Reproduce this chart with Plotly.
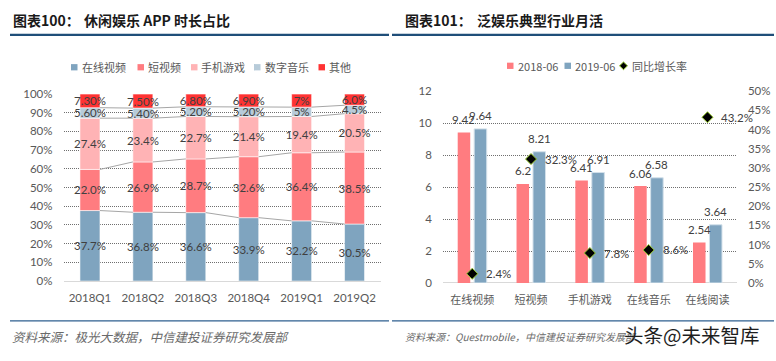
import plotly.graph_objects as go

W, H = 776, 361

# ---------------- Left chart data ----------------
quarters = ["2018Q1", "2018Q2", "2018Q3", "2018Q4", "2019Q1", "2019Q2"]
online_video = [37.7, 36.8, 36.6, 33.9, 32.2, 30.5]
short_video = [22.0, 26.9, 28.7, 32.6, 36.4, 38.5]
mobile_games = [27.4, 23.4, 22.7, 21.4, 19.4, 20.5]
digital_music = [5.6, 5.4, 5.2, 5.2, 5.0, 4.5]
others = [7.3, 7.5, 6.8, 6.9, 7.0, 6.0]
labels_video = ["37.7%", "36.8%", "36.6%", "33.9%", "32.2%", "30.5%"]
labels_short = ["22.0%", "26.9%", "28.7%", "32.6%", "36.4%", "38.5%"]
labels_games = ["27.4%", "23.4%", "22.7%", "21.4%", "19.4%", "20.5%"]
labels_music = ["5.60%", "5.40%", "5.20%", "5.20%", "5%", "4.5%"]
labels_others = ["7.30%", "7.50%", "6.80%", "6.90%", "7%", "6.0%"]
left_names = ["在线视频", "短视频", "手机游戏", "数字音乐", "其他"]
left_colors = ["#7FA4BF", "#FF7C80", "#FFB3B5", "#B7CBD9", "#FF3333"]

# ---------------- Right chart data ----------------
industries = ["在线视频", "短视频", "手机游戏", "在线音乐", "在线阅读"]
mau_2018 = [9.42, 6.2, 6.41, 6.06, 2.54]
mau_2019 = [9.64, 8.21, 6.91, 6.58, 3.64]
yoy_growth = [0.024, 0.323, 0.078, 0.086, 0.432]
yoy_labels = ["2.4%", "32.3%", "7.8%", "8.6%", "43.2%"]
right_names = ["2018-06", "2019-06", "同比增长率"]
right_colors = ["#FF7C80", "#7FA4BF"]


def fx(x):
    return x / W


def fy(y):
    return 1 - y / H


NUM_FONT = "Lato, Noto Sans CJK SC, sans-serif"
CJK_FONT = "Noto Sans CJK SC, sans-serif"
TXT = "#404040"
AX = "#595959"

fig = go.Figure()

# ---------- left stacked bars ----------
series = [online_video, short_video, mobile_games, digital_music, others]
labels = [labels_video, labels_short, labels_games, labels_music, labels_others]
BW = 0.378
xs = list(range(len(quarters)))
base = [0.0] * len(quarters)
tops = []
for vals, lab, col, name in zip(series, labels, left_colors, left_names):
    fig.add_trace(go.Bar(
        x=xs, y=vals, base=list(base), width=BW, name=name,
        marker=dict(color=col, line=dict(color="rgba(255,255,255,0.7)", width=0.8)),
        text=lab, textposition="inside", insidetextanchor="middle",
        constraintext="none", textangle=0,
        insidetextfont=dict(family=NUM_FONT, size=11.5, color=TXT),
        xaxis="x", yaxis="y", showlegend=False, hoverinfo="skip"))
    base = [b + v for b, v in zip(base, vals)]
    tops.append(list(base))

# series lines between stacked bars
for top in tops[:4]:
    lx, ly = [], []
    for i in range(len(quarters) - 1):
        lx += [i + BW / 2, i + 1 - BW / 2, None]
        ly += [top[i], top[i + 1], None]
    fig.add_trace(go.Scatter(x=lx, y=ly, mode="lines",
                             line=dict(color="#A6A6A6", width=1),
                             xaxis="x", yaxis="y", showlegend=False, hoverinfo="skip"))

# ---------- right grouped bars ----------
OFF = 0.14
RBW = 0.213
rx = list(range(len(industries)))
fig.add_trace(go.Bar(x=[i - OFF for i in rx], y=mau_2018, width=RBW, name=right_names[0],
                     marker=dict(color=right_colors[0], line=dict(width=0)),
                     xaxis="x2", yaxis="y2", showlegend=False, hoverinfo="skip"))
fig.add_trace(go.Bar(x=[i + OFF for i in rx], y=mau_2019, width=RBW, name=right_names[1],
                     marker=dict(color=right_colors[1], line=dict(color="#D3E0EA", width=1)),
                     xaxis="x2", yaxis="y2", showlegend=False, hoverinfo="skip"))
fig.add_trace(go.Scatter(x=rx, y=yoy_growth, mode="markers", name=right_names[2],
                         marker=dict(symbol="diamond", size=8.5, color="black",
                                     line=dict(color="#9ACD32", width=1)),
                         xaxis="x2", yaxis="y3", showlegend=False, hoverinfo="skip"))

annotations = []
for i, v in enumerate(mau_2018):
    annotations.append(dict(x=i - OFF, y=v, xref="x2", yref="y2", text=f"{v:g}",
                            showarrow=False, yshift=13,
                            font=dict(family=NUM_FONT, size=11.5, color=TXT)))
for i, v in enumerate(mau_2019):
    annotations.append(dict(x=i + OFF, y=v, xref="x2", yref="y2", text=f"{v:g}",
                            showarrow=False, yshift=13,
                            font=dict(family=NUM_FONT, size=11.5, color=TXT)))
for i, (v, t) in enumerate(zip(yoy_growth, yoy_labels)):
    annotations.append(dict(x=i, y=v, xref="x2", yref="y3", text=t, xanchor="left",
                            showarrow=False, xshift=12,
                            font=dict(family=NUM_FONT, size=11.5, color=TXT)))

# ---------- titles ----------
TITLE_FONT = dict(family=CJK_FONT, size=14, color="#1a1a1a", weight="bold")
for x, t in [(11, "图表100："), (82, "休闲娱乐 APP 时长占比"),
             (403, "图表101："), (475, "泛娱乐典型行业月活")]:
    annotations.append(dict(x=fx(x), y=fy(14), xref="paper", yref="paper", text=t,
                            xanchor="left", yanchor="middle", showarrow=False,
                            font=TITLE_FONT))

# ---------- manual legends ----------
shapes = []
LEG_FONT = dict(family=CJK_FONT, size=11, color=AX)
left_leg_x = [71, 137.5, 191, 254, 318.5]
LY = 62.5
for x, name, col in zip(left_leg_x, left_names, left_colors):
    shapes.append(dict(type="rect", xref="paper", yref="paper",
                       x0=fx(x), x1=fx(x + 6.5), y0=fy(LY + 3.25), y1=fy(LY - 3.25),
                       fillcolor=col, line=dict(width=0)))
    annotations.append(dict(x=fx(x + 8.5), y=fy(LY), xref="paper", yref="paper", text=name,
                            xanchor="left", yanchor="middle", showarrow=False, font=LEG_FONT))
RLY = 61
for x, name, col in zip([507, 564.5], right_names[:2], right_colors):
    shapes.append(dict(type="rect", xref="paper", yref="paper",
                       x0=fx(x), x1=fx(x + 6.5), y0=fy(RLY + 3.25), y1=fy(RLY - 3.25),
                       fillcolor=col, line=dict(width=0)))
    annotations.append(dict(x=fx(x + 8.5), y=fy(RLY), xref="paper", yref="paper", text=name,
                            xanchor="left", yanchor="middle", showarrow=False, font=LEG_FONT))
dx, dy, r = 623.5, RLY, 4.0
shapes.append(dict(type="path", xref="paper", yref="paper",
                   path=f"M {fx(dx - r)} {fy(dy)} L {fx(dx)} {fy(dy - r)} L {fx(dx + r)} {fy(dy)} L {fx(dx)} {fy(dy + r)} Z",
                   fillcolor="black", line=dict(color="#9ACD32", width=1)))
annotations.append(dict(x=fx(630), y=fy(RLY), xref="paper", yref="paper", text=right_names[2],
                        xanchor="left", yanchor="middle", showarrow=False, font=LEG_FONT))

# ---------- separators ----------
for x0, x1 in [(10, 389), (392, 774)]:
    shapes.append(dict(type="line", xref="paper", yref="paper", x0=fx(x0), x1=fx(x1),
                       y0=fy(29), y1=fy(29), line=dict(color="#1F4E79", width=2.2)))
    shapes.append(dict(type="line", xref="paper", yref="paper", x0=fx(x0), x1=fx(x1),
                       y0=fy(325.7), y1=fy(325.7), line=dict(color="#2E5F8F", width=1.2)))

# ---------- sources ----------
annotations.append(dict(x=fx(10), y=fy(341.5), xref="paper", yref="paper",
                        text="<i>资料来源：极光大数据，中信建投证券研究发展部</i>",
                        xanchor="left", yanchor="middle", showarrow=False,
                        font=dict(family="Noto Sans CJK SC, serif", size=12.5, color="#6a6a6a")))
annotations.append(dict(x=fx(403), y=fy(341.5), xref="paper", yref="paper",
                        text="<i>资料来源：Questmobile，中信建投证券研究发展部</i>",
                        xanchor="left", yanchor="middle", showarrow=False,
                        font=dict(family="Noto Sans CJK SC, serif", size=10, color="#6a6a6a")))
annotations.append(dict(x=fx(622), y=fy(340), xref="paper", yref="paper",
                        text="头条@未来智库", xanchor="left", yanchor="middle", showarrow=False,
                        font=dict(family=CJK_FONT, size=19.5, color="#1e1e1e")))

GRID = dict(showgrid=True, gridcolor="#6f6f6f", griddash="1px,1px", gridwidth=1)
TICKF = dict(family=NUM_FONT, size=11.5, color=AX)

fig.update_layout(
    width=W, height=H, margin=dict(l=0, r=0, t=0, b=0),
    paper_bgcolor="white", plot_bgcolor="white",
    barmode="overlay", showlegend=False,
    annotations=annotations, shapes=shapes,
    xaxis=dict(domain=[fx(63.5), fx(381)], range=[-0.5, 5.5], tickmode="array",
               tickvals=xs, ticktext=quarters, showgrid=False, zeroline=False,
               showline=False, ticks="", tickfont=TICKF, anchor="y", ticklabelstandoff=8),
    yaxis=dict(domain=[fy(284.3), fy(90.3)], range=[0, 100], dtick=10, ticksuffix="%",
               zeroline=True, zerolinecolor="#D9D9D9", zerolinewidth=1,
               tickfont=TICKF, anchor="x", ticks="", ticklabelstandoff=10, **GRID),
    xaxis2=dict(domain=[fx(442.8), fx(736.9)], range=[-0.5, 4.5], tickmode="array",
                tickvals=rx, ticktext=industries, showgrid=False, zeroline=False,
                showline=False, ticks="", anchor="y2", ticklabelstandoff=9,
                tickfont=dict(family=CJK_FONT, size=11, color=AX)),
    yaxis2=dict(domain=[fy(286.3), fy(87.3)], range=[0, 12], dtick=2,
                zeroline=True, zerolinecolor="#D9D9D9", zerolinewidth=1,
                tickfont=TICKF, anchor="x2", ticks="", ticklabelstandoff=10, **GRID),
    yaxis3=dict(overlaying="y2", side="right", range=[0, 0.5], dtick=0.05, tickformat=".0%",
                showgrid=False, zeroline=False, anchor="x2", ticks="",
                tickfont=TICKF, ticklabelstandoff=10),
)

fig.write_html("out.html")
